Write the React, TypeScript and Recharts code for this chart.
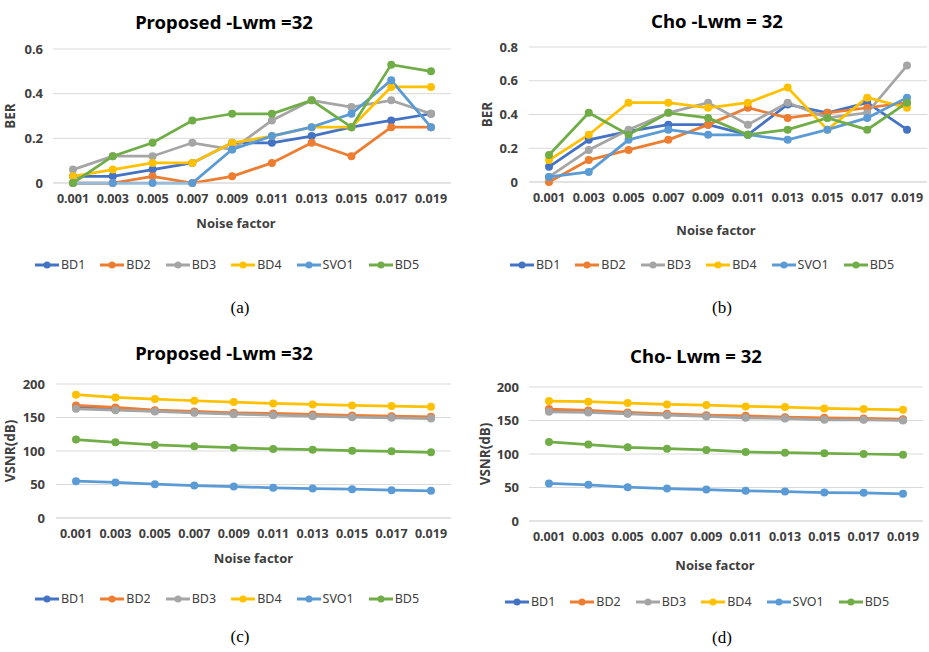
import { LineChart, Line, XAxis, YAxis, CartesianGrid, Legend } from 'recharts'

const noiseFactors = ['0.001', '0.003', '0.005', '0.007', '0.009', '0.011', '0.013', '0.015', '0.017', '0.019']
const seriesNames = ['BD1', 'BD2', 'BD3', 'BD4', 'SVO1', 'BD5']
const COLORS = ['#4472c4', '#ed7d31', '#a5a5a5', '#ffc000', '#5b9bd5', '#70ad47']

// (a) Proposed BER
const propBerBD1 = [0.03, 0.03, 0.06, 0.09, 0.18, 0.18, 0.21, 0.25, 0.28, 0.31]
const propBerBD2 = [0, 0, 0.03, 0, 0.03, 0.09, 0.18, 0.12, 0.25, 0.25]
const propBerBD3 = [0.06, 0.12, 0.12, 0.18, 0.15, 0.28, 0.37, 0.34, 0.37, 0.31]
const propBerBD4 = [0.03, 0.06, 0.09, 0.09, 0.18, 0.21, 0.25, 0.25, 0.43, 0.43]
const propBerSVO1 = [0, 0, 0, 0, 0.15, 0.21, 0.25, 0.31, 0.46, 0.25]
const propBerBD5 = [0, 0.12, 0.18, 0.28, 0.31, 0.31, 0.37, 0.25, 0.53, 0.5]

// (b) Cho BER
const choBerBD1 = [0.09, 0.25, 0.3, 0.34, 0.34, 0.28, 0.46, 0.41, 0.47, 0.31]
const choBerBD2 = [0, 0.13, 0.19, 0.25, 0.34, 0.44, 0.38, 0.41, 0.44, 0.47]
const choBerBD3 = [0.03, 0.19, 0.31, 0.41, 0.47, 0.34, 0.47, 0.38, 0.41, 0.69]
const choBerBD4 = [0.13, 0.28, 0.47, 0.47, 0.44, 0.47, 0.56, 0.31, 0.5, 0.44]
const choBerSVO1 = [0.03, 0.06, 0.25, 0.31, 0.28, 0.28, 0.25, 0.31, 0.38, 0.5]
const choBerBD5 = [0.16, 0.41, 0.28, 0.41, 0.38, 0.28, 0.31, 0.38, 0.31, 0.47]

// (c) Proposed VSNR
const propVsnrBD1 = [165, 162, 160, 158, 156, 154.5, 153, 152, 151, 150]
const propVsnrBD2 = [168, 165, 161, 159, 157, 156, 154.5, 153, 152, 151]
const propVsnrBD3 = [163, 161, 159, 157, 155, 153.5, 152, 150.5, 149.5, 148.5]
const propVsnrBD4 = [184, 180, 177.5, 175, 173, 171, 169.5, 168, 167, 166]
const propVsnrSVO1 = [55, 53, 50.5, 48.5, 47, 45, 44, 43, 41.5, 40.5]
const propVsnrBD5 = [117, 113, 109, 107, 105, 103, 102, 100.5, 99.5, 98]

// (d) Cho VSNR
const choVsnrBD1 = [165, 163, 161, 159, 157, 155, 154, 152.5, 152, 151]
const choVsnrBD2 = [167, 165, 162, 160, 158, 157, 155, 154, 153, 152]
const choVsnrBD3 = [163, 162, 160, 158, 156, 154, 153, 151, 151, 150]
const choVsnrBD4 = [179, 178, 176, 174, 173, 171, 170, 168, 167, 166]
const choVsnrSVO1 = [56, 54, 50.5, 48.5, 47, 45, 44, 42.5, 42, 40.5]
const choVsnrBD5 = [118, 114, 110, 108, 106, 103, 102, 101, 100, 99]

const berTicksA = [0, 0.2, 0.4, 0.6]
const berTicksB = [0, 0.2, 0.4, 0.6, 0.8]
const vsnrTicks = [0, 50, 100, 150, 200]

function buildRows(series: number[][]) {
  return noiseFactors.map((nf, i) => {
    const row: Record<string, string | number> = { nf }
    seriesNames.forEach((name, k) => {
      row[name] = series[k][i]
    })
    return row
  })
}

const FONT = '"Noto Sans", Arial, sans-serif'
const AXIS_TEXT = '#404040'
const XAXIS_H = 60

function LegendRow() {
  return (
    <div style={{ display: 'flex', justifyContent: 'center', gap: 15, fontFamily: FONT, fontSize: 12.5, color: AXIS_TEXT }}>
      {seriesNames.map((name, k) => (
        <span key={name} style={{ display: 'inline-flex', alignItems: 'center' }}>
          <svg width={24} height={10}>
            <line x1={0} y1={5} x2={24} y2={5} stroke={COLORS[k]} strokeWidth={3} />
            <circle cx={12} cy={5} r={3.5} fill={COLORS[k]} />
          </svg>
          <span style={{ marginLeft: 2 }}>{name}</span>
        </span>
      ))}
    </div>
  )
}

interface PanelProps {
  left: number
  top: number
  width: number
  height: number
  title: string
  titleX: number
  titleY: number
  data: Record<string, string | number>[]
  ticks: number[]
  yLabel: string
  yLabelX: number
  yAxisWidth: number
  yTickMargin: number
  plotTop: number
  plotBottom: number
  right: number
  xLabelOffset: number
  xLabelDx: number
  legendTop: number
  legendLeft: number
}

function Panel(p: PanelProps) {
  return (
    <div style={{ position: 'absolute', left: p.left, top: p.top, width: p.width, height: p.height }}>
      <div
        style={{
          position: 'absolute',
          left: p.titleX - 150,
          top: p.titleY - 12,
          width: 300,
          textAlign: 'center',
          fontFamily: FONT,
          fontWeight: 700,
          fontSize: 18.5,
          lineHeight: '24px',
          color: '#000',
        }}
      >
        {p.title}
      </div>
      <LineChart
        width={p.width}
        height={p.height}
        data={p.data}
        margin={{ top: p.plotTop, right: p.right, bottom: p.height - p.plotBottom - XAXIS_H, left: 0 }}
      >
        <CartesianGrid vertical={false} stroke="#d9d9d9" />
        <XAxis
          dataKey="nf"
          height={XAXIS_H}
          interval={0}
          padding={{ left: 20, right: 20 }}
          tickLine={false}
          axisLine={{ stroke: '#d9d9d9' }}
          tickMargin={5}
          tick={{ fill: AXIS_TEXT, fontSize: 12.5, fontWeight: 700, fontFamily: FONT }}
          label={{
            value: 'Noise factor',
            position: 'insideBottom',
            offset: p.xLabelOffset,
            dx: p.xLabelDx,
            style: { fill: AXIS_TEXT, fontSize: 13, fontWeight: 700, fontFamily: FONT },
          }}
        />
        <YAxis
          width={p.yAxisWidth}
          domain={[p.ticks[0], p.ticks[p.ticks.length - 1]]}
          ticks={p.ticks}
          axisLine={false}
          tickLine={false}
          tickMargin={p.yTickMargin}
          tick={{ fill: AXIS_TEXT, fontSize: 13, fontWeight: 700, fontFamily: FONT }}
          label={{
            value: p.yLabel,
            angle: -90,
            position: 'insideLeft',
            offset: p.yLabelX,
            style: { textAnchor: 'middle', fill: AXIS_TEXT, fontSize: 13.5, fontWeight: 700, fontFamily: FONT },
          }}
        />
        <Legend
          layout="horizontal"
          verticalAlign="middle"
          align="center"
          content={() => <LegendRow />}
          wrapperStyle={{ top: p.legendTop, left: p.legendLeft, width: 400 }}
        />
        {seriesNames.map((name, k) => (
          <Line
            key={name}
            dataKey={name}
            stroke={COLORS[k]}
            strokeWidth={2.75}
            dot={{ r: 4, fill: COLORS[k], stroke: COLORS[k], strokeWidth: 0 }}
            activeDot={false}
            isAnimationActive={false}
          />
        ))}
      </LineChart>
    </div>
  )
}

const captionStyle = {
  position: 'absolute' as const,
  width: 40,
  textAlign: 'center' as const,
  fontFamily: '"Liberation Serif", "Times New Roman", serif',
  fontSize: 17,
  lineHeight: '20px',
  color: '#000',
}

export default function App() {
  return (
    <div style={{ position: 'absolute', left: 0, top: 0, width: 929, height: 652, background: '#fff', overflow: 'hidden' }}>
      <Panel
        left={0} top={0} width={465} height={290}
        title="Proposed -Lwm =32" titleX={224} titleY={22}
        data={buildRows([propBerBD1, propBerBD2, propBerBD3, propBerBD4, propBerSVO1, propBerBD5])}
        ticks={berTicksA} yLabel="BER" yLabelX={10} yAxisWidth={53} yTickMargin={4}
        plotTop={49} plotBottom={183} right={14}
        xLabelOffset={15.5} xLabelDx={-16}
        legendTop={256} legendLeft={27}
      />
      <Panel
        left={470} top={0} width={459} height={290}
        title="Cho -Lwm = 32" titleX={247} titleY={21}
        data={buildRows([choBerBD1, choBerBD2, choBerBD3, choBerBD4, choBerSVO1, choBerBD5])}
        ticks={berTicksB} yLabel="BER" yLabelX={17} yAxisWidth={59} yTickMargin={5}
        plotTop={47} plotBottom={182} right={2}
        xLabelOffset={7.5} xLabelDx={-12}
        legendTop={256} legendLeft={32}
      />
      <Panel
        left={0} top={330} width={465} height={290}
        title="Proposed -Lwm =32" titleX={224} titleY={23}
        data={buildRows([propVsnrBD1, propVsnrBD2, propVsnrBD3, propVsnrBD4, propVsnrSVO1, propVsnrBD5])}
        ticks={vsnrTicks} yLabel="VSNR(dB)" yLabelX={10} yAxisWidth={56} yTickMargin={5}
        plotTop={54} plotBottom={188} right={14}
        xLabelOffset={15} xLabelDx={0}
        legendTop={260} legendLeft={27}
      />
      <Panel
        left={470} top={330} width={459} height={290}
        title="Cho- Lwm = 32" titleX={226} titleY={26}
        data={buildRows([choVsnrBD1, choVsnrBD2, choVsnrBD3, choVsnrBD4, choVsnrSVO1, choVsnrBD5])}
        ticks={vsnrTicks} yLabel="VSNR(dB)" yLabelX={15} yAxisWidth={59} yTickMargin={4}
        plotTop={57} plotBottom={191} right={6}
        xLabelOffset={11} xLabelDx={-11}
        legendTop={263} legendLeft={27}
      />
      <div style={{ ...captionStyle, left: 220, top: 298 }}>(a)</div>
      <div style={{ ...captionStyle, left: 702, top: 298 }}>(b)</div>
      <div style={{ ...captionStyle, left: 220, top: 627 }}>(c)</div>
      <div style={{ ...captionStyle, left: 702, top: 628 }}>(d)</div>
    </div>
  )
}
